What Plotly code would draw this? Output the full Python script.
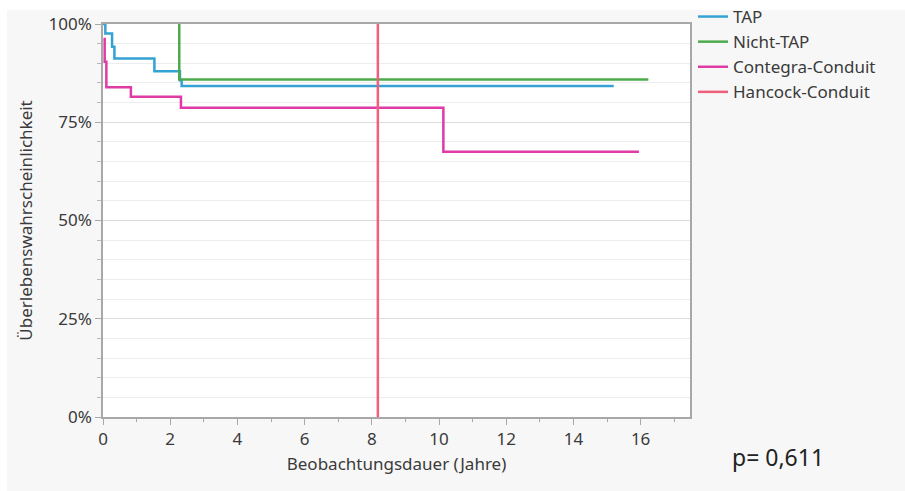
import plotly.graph_objects as go

# ---- data ----
tap_t = [0, 0.07, 0.27, 0.34, 1.53, 2.29, 2.34, 15.2]
tap_s = [1.0, 0.976, 0.942, 0.912, 0.880, 0.857, 0.842, 0.842]

nicht_t = [2.27, 2.27, 16.23]
nicht_s = [1.0, 0.859, 0.859]

contegra_t = [0.05, 0.05, 0.10, 0.83, 2.32, 10.13, 15.95]
contegra_s = [0.965, 0.904, 0.839, 0.815, 0.787, 0.675, 0.675]

hancock_t = [8.18, 8.18]
hancock_s = [0.0, 1.0]

series_names = ["TAP", "Nicht-TAP", "Contegra-Conduit", "Hancock-Conduit"]
series_colors = ["#35a2d4", "#4caa4c", "#e03aa6", "#f0607c"]

y_ticks = [0, 0.25, 0.5, 0.75, 1.0]
y_ticklabels = ["0%", "25%", "50%", "75%", "100%"]
x_ticks = [0, 2, 4, 6, 8, 10, 12, 14, 16]

p_text = "p= 0,611"

FONT = "Noto Sans"
TXT = "#3a3a3a"

fig = go.Figure()
data = [(tap_t, tap_s), (nicht_t, nicht_s), (contegra_t, contegra_s), (hancock_t, hancock_s)]
for (t, s), name, col in zip(data, series_names, series_colors):
    fig.add_trace(go.Scatter(x=t, y=s, mode="lines", name=name,
                             line=dict(color=col, width=2.5, shape="hv")))

W, H = 905, 491
L, R, T, B = 103, 215, 24, 74
pw, ph = W - L - R, H - T - B

def px_x(p):
    return (p - L) / pw

def px_y(p):
    return (H - B - p) / ph

fig.update_layout(
    width=W, height=H,
    margin=dict(l=L, r=R, t=T, b=B, autoexpand=False),
    paper_bgcolor="white",
    plot_bgcolor="rgba(0,0,0,0)",
    font=dict(family=FONT, size=17, color=TXT),
    showlegend=True,
    legend=dict(x=px_x(693), y=px_y(-1), xanchor="left", yanchor="top",
                bgcolor="rgba(0,0,0,0)", font=dict(size=17, color=TXT),
                itemwidth=30, tracegroupgap=0),
    shapes=[
        dict(type="rect", xref="paper", yref="paper", layer="below",
             x0=px_x(7), x1=px_x(W + 5), y0=px_y(H + 5), y1=px_y(10),
             fillcolor="#f7f7f7", line=dict(width=0)),
        dict(type="rect", xref="paper", yref="paper", layer="below",
             x0=0, x1=1, y0=0, y1=1, fillcolor="white", line=dict(width=0)),
    ],
    annotations=[
        dict(text=p_text, xref="paper", yref="paper", x=px_x(778), y=px_y(457),
             xanchor="center", yanchor="middle", showarrow=False,
             font=dict(size=23, color="#222222", family=FONT)),
    ],
)

fig.update_xaxes(
    range=[0, 17.47], tickvals=x_ticks, showgrid=False, zeroline=False,
    showline=True, linecolor="#a8a8a8", linewidth=1.5, mirror=True,
    ticks="outside", ticklen=6, tickcolor="#a8a8a8",
    minor=dict(dtick=1, ticks="outside", ticklen=3, tickcolor="#a8a8a8", showgrid=False),
    tickfont=dict(size=17, color=TXT),
    title=dict(text="Beobachtungsdauer (Jahre)", font=dict(size=17, color=TXT), standoff=9),
)
fig.update_yaxes(
    range=[0, 1.0], tickvals=y_ticks, ticktext=y_ticklabels,
    showgrid=True, gridcolor="#dcdcdc", gridwidth=1, zeroline=False,
    showline=True, linecolor="#a8a8a8", linewidth=1.5, mirror=True,
    ticks="outside", ticklen=6, tickcolor="#a8a8a8",
    minor=dict(dtick=0.05, ticks="outside", ticklen=4, tickcolor="#b8b8b8",
               showgrid=True, gridcolor="#ededed", gridwidth=1),
    tickfont=dict(size=17, color=TXT),
    title=dict(text="Überlebenswahrscheinlichkeit", font=dict(size=17, color=TXT), standoff=12),
)

fig.write_html("out.html")
